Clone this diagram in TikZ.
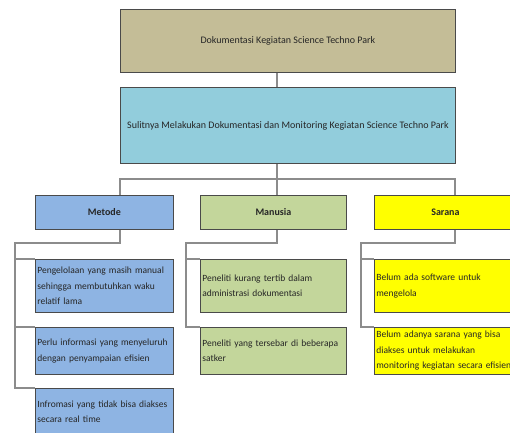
\documentclass[tikz,border=0pt]{standalone}
\usepackage{fontspec}
\setmainfont{Carlito}
\definecolor{tanc}{HTML}{C4BD97}
\definecolor{aquac}{HTML}{92CDDC}
\definecolor{bluec}{HTML}{8EB4E3}
\definecolor{greenc}{HTML}{C3D69B}
\definecolor{yellowc}{HTML}{FFFF00}
\definecolor{borderc}{HTML}{4A4A4A}
\definecolor{connc}{HTML}{8C8C8C}
\definecolor{textc}{HTML}{262626}
\newcommand\myleaffont{\fontsize{9.5}{15.5}\selectfont\hyphenpenalty=10000 \exhyphenpenalty=10000 \relax}
\tikzset{
  box/.style={draw=borderc, line width=0.8pt, anchor=north west, inner sep=0pt,
    font=\fontsize{10}{15.5}\selectfont, text=textc, align=center},
  head/.style={box, font=\fontsize{10}{15.5}\selectfont\bfseries},
  leaf/.style={box, align=left, text width=#1, inner xsep=2pt, font=\myleaffont},
  conn/.style={draw=connc, line width=1.3pt}
}
\begin{document}
\begin{tikzpicture}[x=1pt,y=-1pt]
\useasboundingbox (0,0) rectangle (510,432);
% main boxes
\node[box, fill=tanc, minimum width=335pt, minimum height=63pt] (top) at (120,9) {Dokumentasi Kegiatan Science Techno Park};
\node[box, fill=aquac, minimum width=335pt, minimum height=76pt] (sec) at (120,87) {Sulitnya Melakukan Dokumentasi dan Monitoring Kegiatan Science Techno Park};
% category boxes
\node[head, fill=bluec, minimum width=138pt, minimum height=34pt] (metode) at (35,195) {Metode};
\node[head, fill=greenc, minimum width=146pt, minimum height=34pt] (manusia) at (200,195) {Manusia};
\node[head, fill=yellowc, minimum width=142pt, minimum height=34pt] (sarana) at (374,195) {Sarana};
% Metode leaves
\node[leaf=134pt, fill=bluec, minimum width=138pt, minimum height=53pt] (mc1) at (35,259) {Pengelolaan yang masih manual\\sehingga membutuhkan waku\\relatif lama};
\node[leaf=134pt, fill=bluec, minimum width=138pt, minimum height=47pt] (mc2) at (35,327) {Perlu informasi yang menyeluruh\\dengan penyampaian efisien};
\node[leaf=134pt, fill=bluec, minimum width=138pt, minimum height=47pt] (mc3) at (35,388) {Infromasi yang tidak bisa diakses\\secara real time};
% Manusia leaves
\node[leaf=142pt, fill=greenc, minimum width=146pt, minimum height=53pt] (nc1) at (200,259) {Peneliti kurang tertib dalam\\administrasi dokumentasi};
\node[leaf=142pt, fill=greenc, minimum width=146pt, minimum height=47pt] (nc2) at (200,327) {Peneliti yang tersebar di beberapa\\satker};
% Sarana leaves
\node[leaf=150pt, fill=yellowc, minimum width=154pt, minimum height=53pt] (sc1) at (374,259) {Belum ada software untuk\\mengelola};
\node[leaf=150pt, fill=yellowc, minimum width=154pt, minimum height=47pt] (sc2) at (374,327) {Belum adanya sarana yang bisa\\diakses untuk melakukan\\monitoring kegiatan secara efisien};
% connector coordinates
\coordinate (T) at (277,179);
\coordinate (busL) at (120,179);
\coordinate (busR) at (455,179);
\coordinate (mA) at (120,243);
\coordinate (mL) at (15,243);
\coordinate (nA) at (277,243);
\coordinate (nL) at (186,243);
\coordinate (sA) at (455,243);
\coordinate (sL) at (361,243);
% connectors
\draw[conn] (top.south -| T) -- (sec.north -| T);
\draw[conn] (sec.south -| T) -- (T);
\draw[conn] (metode.north -| busL) -- (busL) -- (busR) -- (sarana.north -| busR);
\draw[conn] (T) -- (manusia.north -| T);
% Metode subtree
\draw[conn] (metode.south -| mA) -- (mA) -- (mL) -- (mc3.north west -| mL) -- (mc3.north west);
\draw[conn] (mc1.north west -| mL) -- (mc1.north west);
\draw[conn] (mc2.north west -| mL) -- (mc2.north west);
% Manusia subtree
\draw[conn] (manusia.south -| nA) -- (nA) -- (nL) -- (nc2.north west -| nL) -- (nc2.north west);
\draw[conn] (nc1.north west -| nL) -- (nc1.north west);
% Sarana subtree
\draw[conn] (sarana.south -| sA) -- (sA) -- (sL) -- (sc2.north west -| sL) -- (sc2.north west);
\draw[conn] (sc1.north west -| sL) -- (sc1.north west);
\end{tikzpicture}
\end{document}
